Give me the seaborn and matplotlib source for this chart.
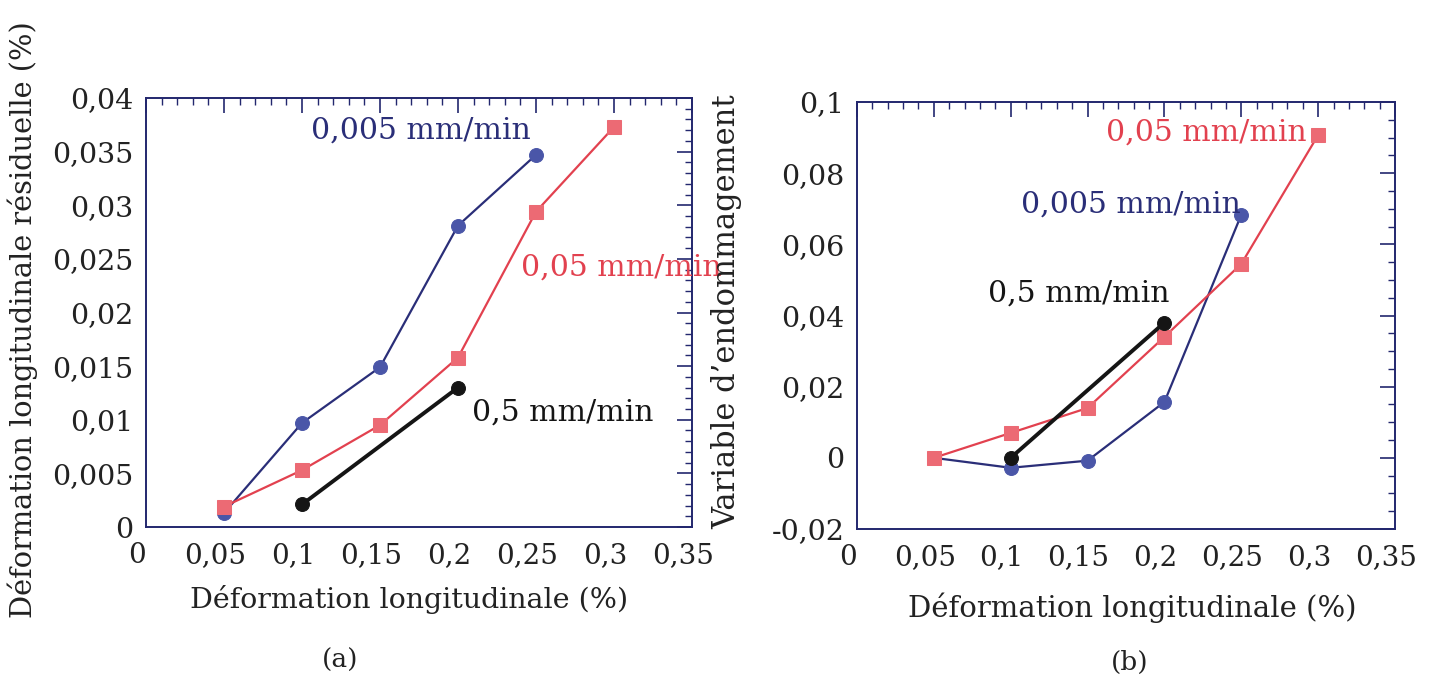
import numpy as np
import pandas as pd
import seaborn as sns
import matplotlib.pyplot as plt
from matplotlib.ticker import MultipleLocator, FuncFormatter
from matplotlib.transforms import ScaledTranslation

# Données
# (a) déformation longitudinale résiduelle
x_a_lent = [0.05, 0.10, 0.15, 0.20, 0.25]
y_a_lent = [0.0013, 0.0097, 0.0149, 0.0281, 0.0347]
x_a_moyen = [0.05, 0.10, 0.15, 0.20, 0.25, 0.30]
y_a_moyen = [0.0019, 0.0053, 0.0095, 0.0158, 0.0294, 0.0373]
x_a_rapide = [0.10, 0.20]
y_a_rapide = [0.0021, 0.0130]

# (b) variable d'endommagement
x_b_lent = [0.05, 0.10, 0.15, 0.20, 0.25]
y_b_lent = [0.0, -0.0028, -0.0008, 0.0157, 0.0683]
x_b_moyen = [0.05, 0.10, 0.15, 0.20, 0.25, 0.30]
y_b_moyen = [0.0, 0.0070, 0.0140, 0.0340, 0.0545, 0.0907]
x_b_rapide = [0.10, 0.20]
y_b_rapide = [0.0, 0.0380]

sns.set_style("white")
plt.rcParams['font.family'] = ['DejaVu Serif']

bleu_ligne = '#2a2e78'
bleu_marq = '#4a56a8'
rouge_ligne = '#e2414f'
rouge_marq = '#ec6a74'
axe_col = '#23276e'
texte = '#222222'

fig = plt.figure(figsize=(14.32, 6.96), dpi=100)
ax_a = fig.add_axes([146 / 1432, 1 - 527 / 696, 546 / 1432, 429 / 696])
ax_b = fig.add_axes([857 / 1432, 1 - 529 / 696, 538 / 1432, 427 / 696])


def virgule(v, pos):
    v = round(v, 5)
    if v == 0:
        return '0'
    return '{:g}'.format(v).replace('.', ',')


def trace(ax, xl, yl, xm, ym, xr, yr):
    sns.lineplot(x=xl, y=yl, ax=ax, color=bleu_ligne, lw=1.6, marker='o',
                 markersize=10, markerfacecolor=bleu_marq, markeredgecolor=bleu_marq)
    sns.lineplot(x=xm, y=ym, ax=ax, color=rouge_ligne, lw=1.6, marker='s',
                 markersize=10, markerfacecolor=rouge_marq, markeredgecolor=rouge_marq)
    sns.lineplot(x=xr, y=yr, ax=ax, color='#151515', lw=2.8, marker='o',
                 markersize=10, markerfacecolor='#151515', markeredgecolor='#151515')


trace(ax_a, x_a_lent, y_a_lent, x_a_moyen, y_a_moyen, x_a_rapide, y_a_rapide)
trace(ax_b, x_b_lent, y_b_lent, x_b_moyen, y_b_moyen, x_b_rapide, y_b_rapide)

ax_a.set_xlim(0, 0.35)
ax_a.set_ylim(0, 0.04)
ax_a.yaxis.set_major_locator(MultipleLocator(0.005))
ax_a.yaxis.set_minor_locator(MultipleLocator(0.001))

ax_b.set_xlim(0, 0.35)
ax_b.set_ylim(-0.02, 0.1)
ax_b.yaxis.set_major_locator(MultipleLocator(0.02))
ax_b.yaxis.set_minor_locator(MultipleLocator(0.005))

decal = ScaledTranslation(-0.09, 0, fig.dpi_scale_trans)
for ax in (ax_a, ax_b):
    ax.xaxis.set_major_locator(MultipleLocator(0.05))
    ax.xaxis.set_minor_locator(MultipleLocator(0.01))
    ax.xaxis.set_major_formatter(FuncFormatter(virgule))
    ax.yaxis.set_major_formatter(FuncFormatter(virgule))
    ax.tick_params(which='both', direction='in', top=True, right=True,
                   color=axe_col, labelcolor=texte)
    ax.tick_params(which='major', length=11, width=1.2)
    ax.tick_params(axis='x', which='major', pad=11, labelsize=20)
    ax.tick_params(axis='y', which='major', pad=9, labelsize=20.5)
    ax.tick_params(which='minor', length=5, width=1.0)
    for s in ax.spines.values():
        s.set_color(axe_col)
        s.set_linewidth(1.4)
    ax.set_xlabel('')
    ax.set_ylabel('')
    # les étiquettes de l'original sont un peu décalées à gauche
    for lab in ax.get_xticklabels():
        lab.set_transform(lab.get_transform() + decal)

# annotations des vitesses
ax_a.text(0.176, 0.037, '0,005 mm/min', color=bleu_ligne, fontsize=21.5, ha='center', va='center')
ax_a.text(0.305, 0.0242, '0,05 mm/min', color=rouge_ligne, fontsize=21.5, ha='center', va='center')
ax_a.text(0.267, 0.0107, '0,5 mm/min', color='#151515', fontsize=21.5, ha='center', va='center')

ax_b.text(0.227, 0.0913, '0,05 mm/min', color=rouge_ligne, fontsize=21.5, ha='center', va='center')
ax_b.text(0.178, 0.0711, '0,005 mm/min', color=bleu_ligne, fontsize=21.5, ha='center', va='center')
ax_b.text(0.144, 0.0463, '0,5 mm/min', color='#151515', fontsize=21.5, ha='center', va='center')

# titres des axes
fig.text(409 / 1432, 1 - 600 / 696, 'Déformation longitudinale (%)', fontsize=20.5,
         ha='center', va='center', color=texte)
fig.text(1132 / 1432, 1 - 608 / 696, 'Déformation longitudinale (%)', fontsize=21,
         ha='center', va='center', color=texte)
fig.text(23 / 1432, 1 - 320 / 696, 'Déformation longitudinale résiduelle (%)', fontsize=20.8,
         rotation=90, ha='center', va='center', color=texte)
fig.text(727 / 1432, 1 - 312 / 696, "Variable d’endommagement", fontsize=22,
         rotation=90, ha='center', va='center', color=texte)

fig.text(340 / 1432, 1 - 660 / 696, '(a)', fontsize=19, ha='center', va='center', color=texte)
fig.text(1130 / 1432, 1 - 662 / 696, '(b)', fontsize=19, ha='center', va='center', color=texte)

fig.savefig('out.png', dpi=100)
